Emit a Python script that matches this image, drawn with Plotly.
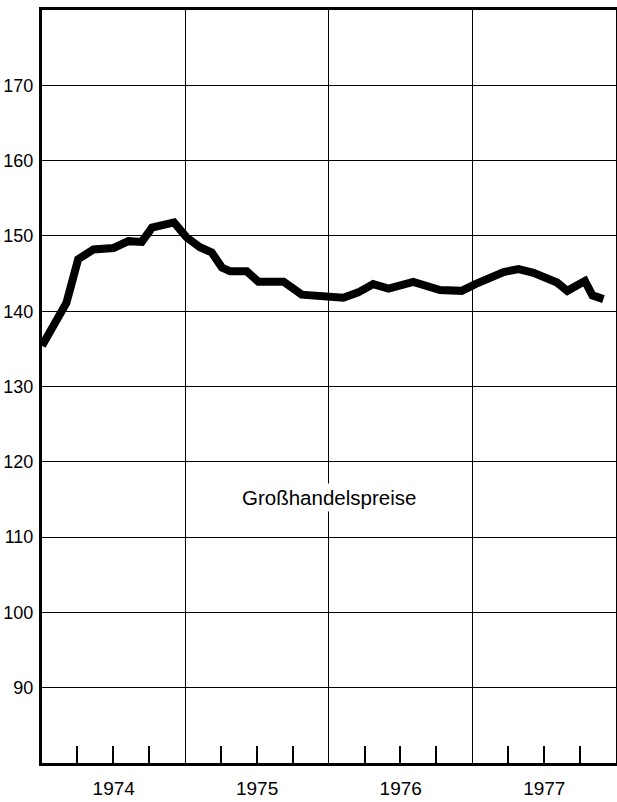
import plotly.graph_objects as go

# Großhandelspreise (index)
dates = [
    "1974-01-01", "1974-02-12", "1974-03-04", "1974-03-18", "1974-04-03",
    "1974-05-12", "1974-07-02", "1974-08-09", "1974-09-12", "1974-10-08",
    "1974-11-06", "1974-12-03", "1975-01-04", "1975-02-07", "1975-03-09",
    "1975-04-04", "1975-04-25", "1975-06-06", "1975-07-06", "1975-09-08",
    "1975-10-24", "1975-12-10", "1976-02-07", "1976-03-16", "1976-04-23",
    "1976-06-01", "1976-08-03", "1976-10-10", "1976-12-04", "1977-01-08",
    "1977-03-21", "1977-04-28", "1977-06-05", "1977-08-04", "1977-08-30",
    "1977-10-14", "1977-11-02", "1977-11-30",
]
values = [
    135.4, 139.4, 141.1, 143.8, 146.9,
    148.2, 148.4, 149.3, 149.2, 151.1,
    151.5, 151.8, 149.8, 148.5, 147.8,
    145.8, 145.3, 145.3, 143.9, 143.9,
    142.2, 142.0, 141.8, 142.5, 143.6,
    143.0, 143.9, 142.8, 142.7, 143.6,
    145.2, 145.6, 145.1, 143.8, 142.7,
    144.0, 142.1, 141.6,
]
y_ticks = [90, 100, 110, 120, 130, 140, 150, 160, 170]
x_range = ["1974-01-01", "1978-01-01"]
y_range = [80, 180]
series_label = "Großhandelspreise"
label_pos = ("1976-01-01", 115.2)

fig = go.Figure(
    go.Scatter(
        x=dates, y=values, mode="lines",
        line=dict(color="black", width=8, shape="linear"),
        hoverinfo="skip",
    )
)

fig.update_layout(
    width=617, height=802,
    margin=dict(l=42, r=1, t=10, b=39, autoexpand=False),
    paper_bgcolor="white", plot_bgcolor="white",
    showlegend=False,
    font=dict(family="Liberation Sans, Arial, sans-serif", color="black"),
)

fig.update_xaxes(
    type="date", range=x_range, automargin=False,
    dtick="M12", tick0="1974-01-01", tickformat="%Y", ticklabelmode="period",
    showgrid=True, gridcolor="black", gridwidth=1.3,
    ticks="", ticklabelstandoff=6,
    showline=True, linecolor="black", linewidth=2.5, mirror=True,
    tickfont=dict(size=19, color="black"),
    zeroline=False,
    minor=dict(dtick="M3", tick0="1974-01-01", ticks="inside", ticklen=17,
               tickwidth=1.5, tickcolor="black", showgrid=False),
)

fig.update_yaxes(
    range=y_range, tickmode="array", tickvals=y_ticks, automargin=False,
    showgrid=True, gridcolor="black", gridwidth=1.3,
    ticks="", ticklabelstandoff=2,
    showline=True, linecolor="black", linewidth=3, mirror=True,
    tickfont=dict(size=18, color="black"),
    zeroline=False,
)

fig.add_annotation(
    x=label_pos[0], y=label_pos[1], text=series_label,
    showarrow=False, xanchor="center", yanchor="middle",
    font=dict(size=20.5, color="black"),
    bgcolor="white", borderpad=2,
)

fig.write_html(
    "out.html",
    config={"displayModeBar": False},
    post_script="document.body.style.margin='0';document.body.style.overflow='hidden';",
)
